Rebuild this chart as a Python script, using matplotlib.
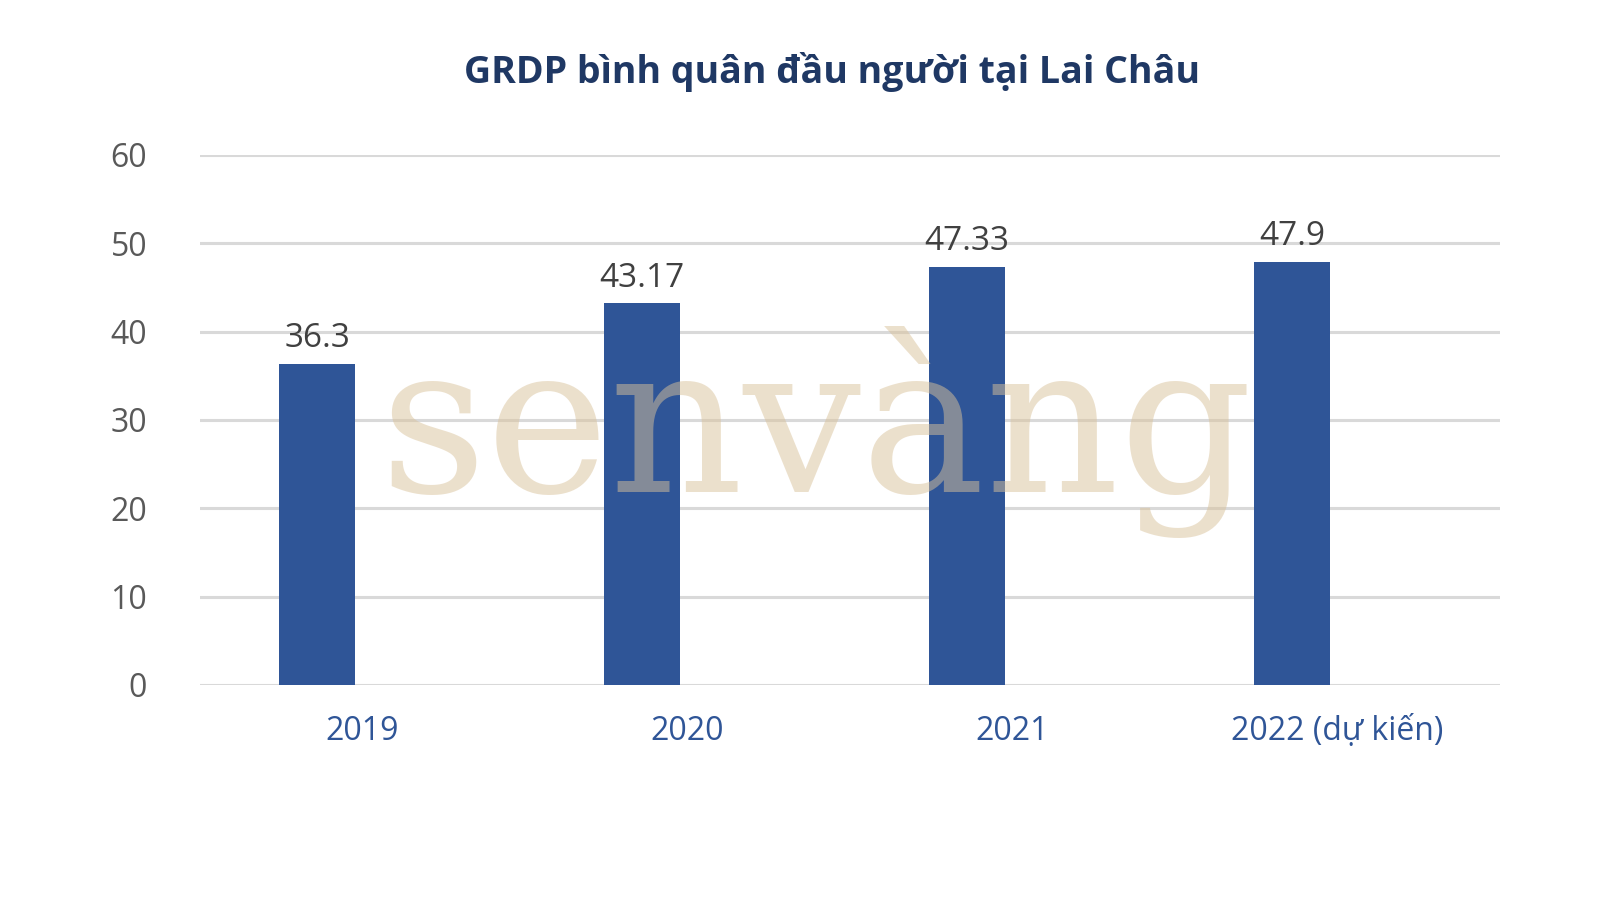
import matplotlib
matplotlib.use('Agg')
import matplotlib.pyplot as plt
import numpy as np

plt.rcParams['font.family'] = ['Open Sans', 'DejaVu Sans']

# Dữ liệu
nam = ['2019', '2020', '2021', '2022 (dự kiến)']
grdp = [36.3, 43.17, 47.33, 47.9]
nhan = ['36.3', '43.17', '47.33', '47.9']
yticks = [0, 10, 20, 30, 40, 50, 60]

fig = plt.figure(figsize=(16, 9), dpi=100)
ax = fig.add_axes([0.125, 0.239, 0.8125, 0.589])

x = np.arange(len(nam))
bars = ax.bar(x - 0.14, grdp, width=0.235, color='#2F5597', zorder=3)
for b, t in zip(bars, nhan):
    ax.text(b.get_x() + b.get_width() / 2, b.get_height() + 1.0, t,
            ha='center', va='bottom', fontsize=24, color='#404040', zorder=4)

ax.set_xlim(-0.5, 3.5)
ax.set_ylim(0, 60)
ax.set_yticks(yticks)
ax.set_xticks(x)
ax.set_xticklabels(nam, fontsize=23, color='#2F5597')
ax.tick_params(axis='y', labelsize=23, labelcolor='#595959', length=0, pad=38)
ax.tick_params(axis='x', length=0, pad=22)
ax.grid(axis='y', color='#D9D9D9', linewidth=2.2, zorder=0)
for s in ax.spines.values():
    s.set_visible(False)

fig.text(0.52, 0.92, 'GRDP bình quân đầu người tại Lai Châu', ha='center', va='center',
         fontsize=27, fontweight='bold', color='#1F3864')

# watermark
fig.text(0.51, 0.52, 'senvàng', ha='center', va='center', fontsize=150,
         family='DejaVu Serif', color='#D9C29A', alpha=0.5, zorder=10)

fig.savefig('out.png', dpi=100, facecolor='white')
